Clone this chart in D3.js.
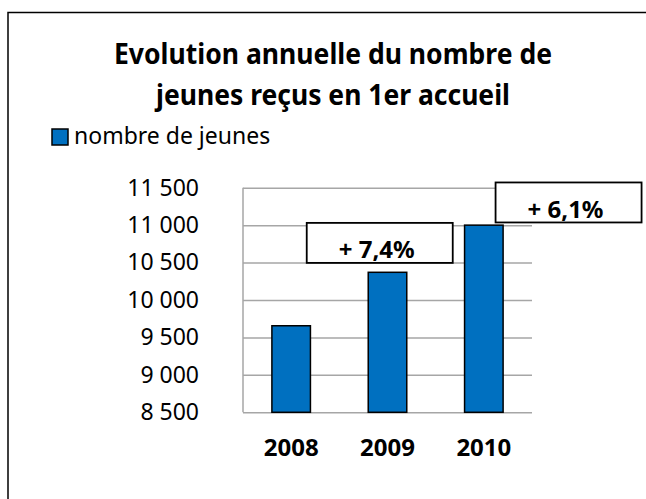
<!DOCTYPE html>
<html>
<head>
<meta charset="utf-8">
<script src="https://cdn.jsdelivr.net/npm/d3@7"></script>
<style>
  body { margin: 0; background: #fff; overflow: hidden; }
  svg { display: block; }
  text { font-family: "Noto Sans", "Open Sans", sans-serif; fill: #000; }
</style>
</head>
<body>
<svg id="chart" width="646" height="499"></svg>
<script>
'use strict';

// data
const years = ['2008', '2009', '2010'];
const jeunes = [9656, 10370, 11000];
const yTicks = [8500, 9000, 9500, 10000, 10500, 11000, 11500];
const titleLines = ['Evolution annuelle du nombre de', 'jeunes reçus en 1er accueil'];
const seriesName = 'nombre de jeunes';
const evoYears = ['2009', '2010'];
const evoLabels = ['+ 7,4%', '+ 6,1%'];

const blue = '#0070C0';
const grid = '#a6a6a6';

const svg = d3.select('#chart');

// outer frame: only left and top edges are inside the picture
svg.append('path')
  .attr('d', 'M8,499 V12.5 H646')
  .attr('fill', 'none').attr('stroke', '#000').attr('stroke-width', 1.5);

// title (squeezed a little, the original font is narrower)
const titleW = [438, 354];
svg.append('g').selectAll('text').data(titleLines).enter().append('text')
  .attr('x', 333)
  .attr('y', (d, i) => 63.5 + i * 41)
  .attr('text-anchor', 'middle')
  .attr('textLength', (d, i) => titleW[i])
  .attr('lengthAdjust', 'spacingAndGlyphs')
  .style('font-size', '28px')
  .style('font-weight', 'bold')
  .text(d => d);

// legend
const lg = svg.append('g').attr('transform', 'translate(52,129)');
lg.append('rect')
  .attr('width', 16).attr('height', 16)
  .attr('fill', blue).attr('stroke', '#000').attr('stroke-width', 1.5);
lg.append('text')
  .attr('x', 22).attr('y', 15)
  .style('font-size', '23px')
  .text(seriesName);

// scales
const x = d3.scaleBand().domain(years).range([243, 532])
  .paddingInner(0.6).paddingOuter(0.3);
const y = d3.scaleLinear().domain([8500, 11500]).range([412.3, 187.7]);

const fr = d3.formatLocale({ decimal: ',', thousands: ' ', grouping: [3], currency: ['', ' €'] });

// y axis + gridlines
const yAxis = svg.append('g')
  .attr('transform', 'translate(243,0)')
  .call(d3.axisLeft(y).tickValues(yTicks).tickFormat(fr.format(',d'))
    .tickSize(-(532 - 243)).tickPadding(44));
yAxis.select('.domain').remove();
yAxis.selectAll('line').attr('stroke', grid).attr('stroke-width', 1.5);
yAxis.selectAll('text').style('font-size', '23px')
  .attr('font-family', null);

svg.append('line')
  .attr('x1', 243).attr('x2', 243)
  .attr('y1', y(11500)).attr('y2', y(8500))
  .attr('stroke', grid).attr('stroke-width', 1.5);

// x axis labels
const xAxis = svg.append('g')
  .attr('transform', `translate(0,${y(8500)})`)
  .call(d3.axisBottom(x).tickSize(0).tickPadding(27));
xAxis.select('.domain').remove();
xAxis.selectAll('text').style('font-size', '24px').style('font-weight', 'bold')
  .attr('font-family', null);

// bars
svg.append('g').selectAll('rect').data(years).enter().append('rect')
  .attr('x', d => x(d))
  .attr('y', (d, i) => y(jeunes[i]))
  .attr('width', x.bandwidth())
  .attr('height', (d, i) => y(8500) - y(jeunes[i]))
  .attr('fill', blue).attr('stroke', '#000').attr('stroke-width', 1.5);

// evolution text boxes (hand placed in the original)
const boxDx = [-61.5, 31];   // left edge relative to the bar's left edge
const boxTop = [11030, 11570];
const boxW = 146, boxH = 40;
const ev = svg.append('g').selectAll('g').data(evoYears).enter().append('g')
  .attr('transform', (d, i) => `translate(${x(d) + boxDx[i]},${y(boxTop[i])})`);
ev.append('rect')
  .attr('width', boxW).attr('height', boxH)
  .attr('fill', '#fff').attr('stroke', '#000').attr('stroke-width', 1.8);
ev.append('text')
  .attr('x', boxW / 2 - 3).attr('y', boxH - 4.5)
  .attr('text-anchor', 'middle')
  .style('font-size', '24px').style('font-weight', 'bold')
  .text((d, i) => evoLabels[i]);
</script>
</body>
</html>
